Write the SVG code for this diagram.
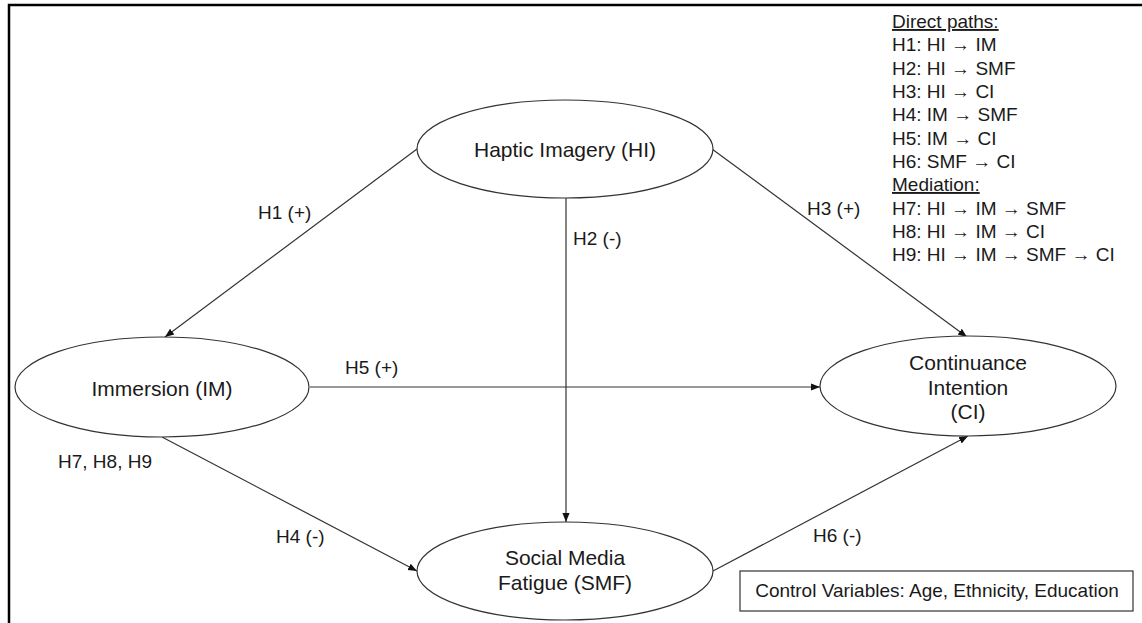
<svg xmlns="http://www.w3.org/2000/svg" width="1142" height="623" viewBox="0 0 1142 623">
<style>
.node{fill:#fff;stroke:#333;stroke-width:1.2}
.nt{font-family:"Liberation Sans",Arial,sans-serif;font-size:21px;fill:#1a1a1a;text-anchor:middle}
.lbl{font-family:"Liberation Sans",Arial,sans-serif;font-size:19px;fill:#1a1a1a}
.edge{stroke:#333;stroke-width:1.2;fill:none;marker-end:url(#ah)}
</style>
<defs>
<marker id="ah" viewBox="0 0 10 10" refX="10" refY="5" markerWidth="9" markerHeight="9" markerUnits="userSpaceOnUse" orient="auto">
<path d="M0,1 L10,5 L0,9 Z" fill="#111"/>
</marker>
</defs>
<rect width="1142" height="623" fill="#fff"/>
<path d="M9,623 V5 H1142" fill="none" stroke="#000" stroke-width="2.5"/>
<g id="connectors">
<line class="edge" x1="417" y1="149" x2="165" y2="337"/>
<line class="edge" x1="566" y1="198" x2="566" y2="522"/>
<line class="edge" x1="712" y1="149" x2="967" y2="337"/>
<line class="edge" x1="310" y1="387" x2="820" y2="387"/>
<line class="edge" x1="162" y1="437" x2="417" y2="571"/>
<line class="edge" x1="713" y1="571" x2="968" y2="436"/>
</g>
<g id="edge-labels" class="lbl">
<text x="258" y="219">H1 (+)</text>
<text x="573" y="245">H2 (-)</text>
<text x="807" y="215">H3 (+)</text>
<text x="345" y="374">H5 (+)</text>
<text x="58" y="468">H7, H8, H9</text>
<text x="276" y="543">H4 (-)</text>
<text x="813" y="542">H6 (-)</text>
</g>
<g id="HI">
<ellipse class="node" cx="565" cy="149" rx="148" ry="49"/>
<text class="nt" x="565" y="157">Haptic Imagery (HI)</text>
</g>
<g id="IM">
<ellipse class="node" cx="162" cy="387" rx="147" ry="50"/>
<text class="nt" x="162" y="396">Immersion (IM)</text>
</g>
<g id="SMF">
<ellipse class="node" cx="565" cy="571" rx="148" ry="49"/>
<text class="nt" x="565" y="565">Social Media</text>
<text class="nt" x="565" y="590">Fatigue (SMF)</text>
</g>
<g id="CI">
<ellipse class="node" cx="968" cy="386" rx="148" ry="50"/>
<text class="nt" x="968" y="370">Continuance</text>
<text class="nt" x="968" y="395">Intention</text>
<text class="nt" x="968" y="419">(CI)</text>
</g>
<g id="controls">
<rect x="740" y="571" width="393" height="40" fill="#fff" stroke="#333" stroke-width="1.2"/>
<text class="lbl" x="937" y="597" text-anchor="middle">Control Variables: Age, Ethnicity, Education</text>
</g>
<g id="legend" class="lbl">
<text x="892" y="28" text-decoration="underline">Direct paths:</text>
<text x="892" y="51">H1: HI → IM</text>
<text x="892" y="75">H2: HI → SMF</text>
<text x="892" y="98">H3: HI → CI</text>
<text x="892" y="121">H4: IM → SMF</text>
<text x="892" y="145">H5: IM → CI</text>
<text x="892" y="168">H6: SMF → CI</text>
<text x="892" y="191" text-decoration="underline">Mediation:</text>
<text x="892" y="215">H7: HI → IM → SMF</text>
<text x="892" y="238">H8: HI → IM → CI</text>
<text x="892" y="261">H9: HI → IM → SMF → CI</text>
</g>
</svg>
